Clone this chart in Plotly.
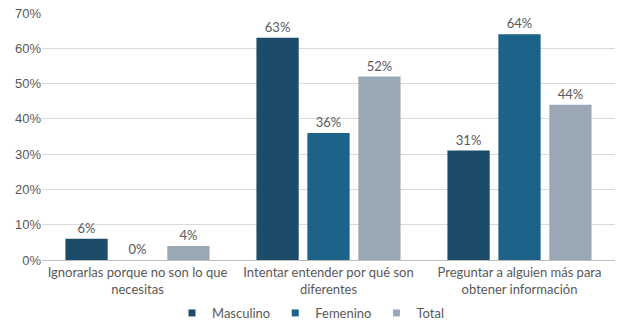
import plotly.graph_objects as go

categories = ["Ignorarlas porque no son lo que<br>necesitas",
              "Intentar entender por qué son<br>diferentes",
              "Preguntar a alguien más para<br>obtener información"]
masculino = [0.06, 0.63, 0.31]
femenino = [0.00, 0.36, 0.64]
total = [0.04, 0.52, 0.44]
y_ticks = [0, 0.1, 0.2, 0.3, 0.4, 0.5, 0.6, 0.7]
y_labels = ["0%", "10%", "20%", "30%", "40%", "50%", "60%", "70%"]

series = [("Masculino", masculino, "#1c4c69"),
          ("Femenino", femenino, "#1d6389"),
          ("Total", total, "#9aa8b6")]

fig = go.Figure()
for name, vals, color in series:
    fig.add_trace(go.Bar(
        x=categories, y=vals, name=name, showlegend=False,
        marker=dict(color=color, line=dict(width=0)),
        text=[f"{round(v*100)}%" for v in vals],
        textposition="outside", cliponaxis=False,
        textfont=dict(color="#595959", size=13),
    ))
# legend entries with small square swatches
for name, vals, color in series:
    fig.add_trace(go.Scatter(
        x=[None], y=[None], mode="markers", name=name,
        marker=dict(symbol="square", size=7, color=color),
    ))

fig.update_layout(
    width=621, height=328,
    margin=dict(l=42, r=6, t=13, b=68, autoexpand=False),
    paper_bgcolor="white", plot_bgcolor="white",
    font=dict(family="Lato", color="#595959", size=13),
    barmode="group", bargap=0.2, bargroupgap=0.17,
    showlegend=True,
    legend=dict(orientation="h", x=0.5, xanchor="center",
                xref="container", yref="container", y=-0.012, yanchor="bottom",
                font=dict(size=13, color="#595959"), itemwidth=30,
                traceorder="normal"),
    yaxis=dict(range=[0, 0.7], tickvals=y_ticks, ticktext=y_labels,
               showgrid=True, gridcolor="#d9d9d9", gridwidth=1,
               zeroline=False, showline=False, ticks="", automargin=False,
               tickfont=dict(family="Liberation Sans", size=13, color="#595959")),
    xaxis=dict(showline=True, linecolor="#bfbfbf", linewidth=1, ticks="",
               automargin=False,
               tickfont=dict(size=13, color="#595959")),
)
fig.write_html("out.html")
